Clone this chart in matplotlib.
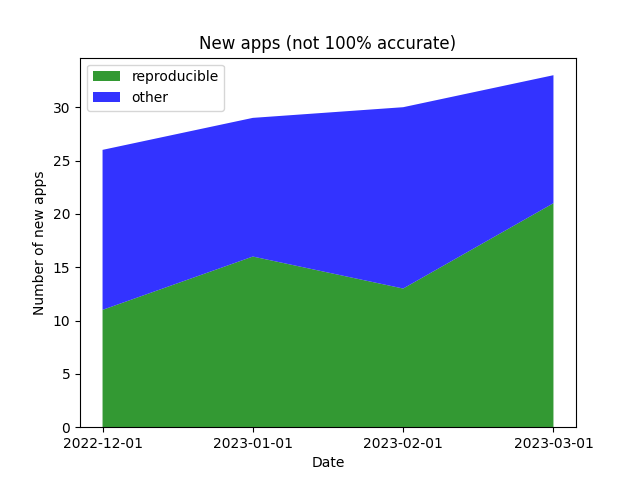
import matplotlib
matplotlib.use("Agg")
import matplotlib.pyplot as plt

# monthly counts of new apps
dates = ["2022-12-01", "2023-01-01", "2023-02-01", "2023-03-01"]
reproducible = [11, 16, 13, 21]
other = [15, 13, 17, 12]

fig, ax = plt.subplots(figsize=(6.4, 4.8), dpi=100)
ax.stackplot(dates, reproducible, other,
             labels=["reproducible", "other"],
             colors=["green", "blue"], alpha=0.8)
ax.set_title("New apps (not 100% accurate)")
ax.set_xlabel("Date")
ax.set_ylabel("Number of new apps")
ax.legend(loc="upper left")

fig.savefig("out.png")
